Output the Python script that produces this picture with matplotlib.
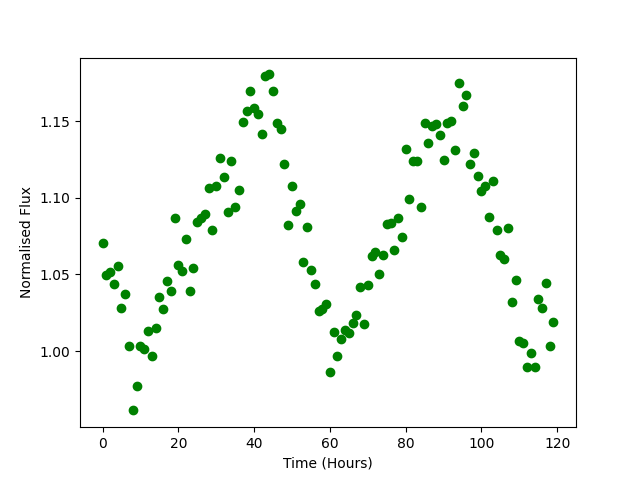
import numpy as np
import matplotlib
matplotlib.use("Agg")
import matplotlib.pyplot as plt

# time in hours, one sample per hour
hours = list(range(120))

flux = [
    1.0702, 1.0493, 1.0513, 1.0435, 1.0552, 1.0278, 1.0370, 1.0031, 0.9613, 0.9770,
    1.0031, 1.0011, 1.0128, 0.9965, 1.0148, 1.0350, 1.0272, 1.0454, 1.0389, 1.0865,
    1.0559, 1.0520, 1.0728, 1.0389, 1.0539, 1.0839, 1.0865, 1.0891, 1.1061, 1.0787,
    1.1074, 1.1256, 1.1132, 1.0904, 1.1237, 1.0937, 1.1048, 1.1491, 1.1563, 1.1693,
    1.1582, 1.1543, 1.1413, 1.1791, 1.1804, 1.1693, 1.1484, 1.1445, 1.1217, 1.0819,
    1.1074, 1.0911, 1.0956, 1.0578, 1.0806, 1.0526, 1.0435, 1.0259, 1.0272, 1.0304,
    0.9861, 1.0122, 0.9965, 1.0076, 1.0135, 1.0115, 1.0180, 1.0233, 1.0415, 1.0174,
    1.0428, 1.0617, 1.0643, 1.0500, 1.0624, 1.0826, 1.0832, 1.0656, 1.0865, 1.0741,
    1.1315, 1.0989, 1.1237, 1.1237, 1.0937, 1.1484, 1.1354, 1.1465, 1.1478, 1.1406,
    1.1243, 1.1484, 1.1497, 1.1308, 1.1745, 1.1595, 1.1667, 1.1217, 1.1289, 1.1139,
    1.1041, 1.1074, 1.0872, 1.1106, 1.0787, 1.0624, 1.0598, 1.0800, 1.0317, 1.0461,
    1.0063, 1.0050, 0.9894, 0.9985, 0.9894, 1.0337, 1.0278, 1.0441, 1.0031, 1.0187,
]

plt.figure(figsize=(6.4, 4.8), dpi=100)
plt.plot(hours, flux, 'go')
plt.xlabel('Time (Hours)')
plt.ylabel('Normalised Flux')
plt.savefig('out.png')
